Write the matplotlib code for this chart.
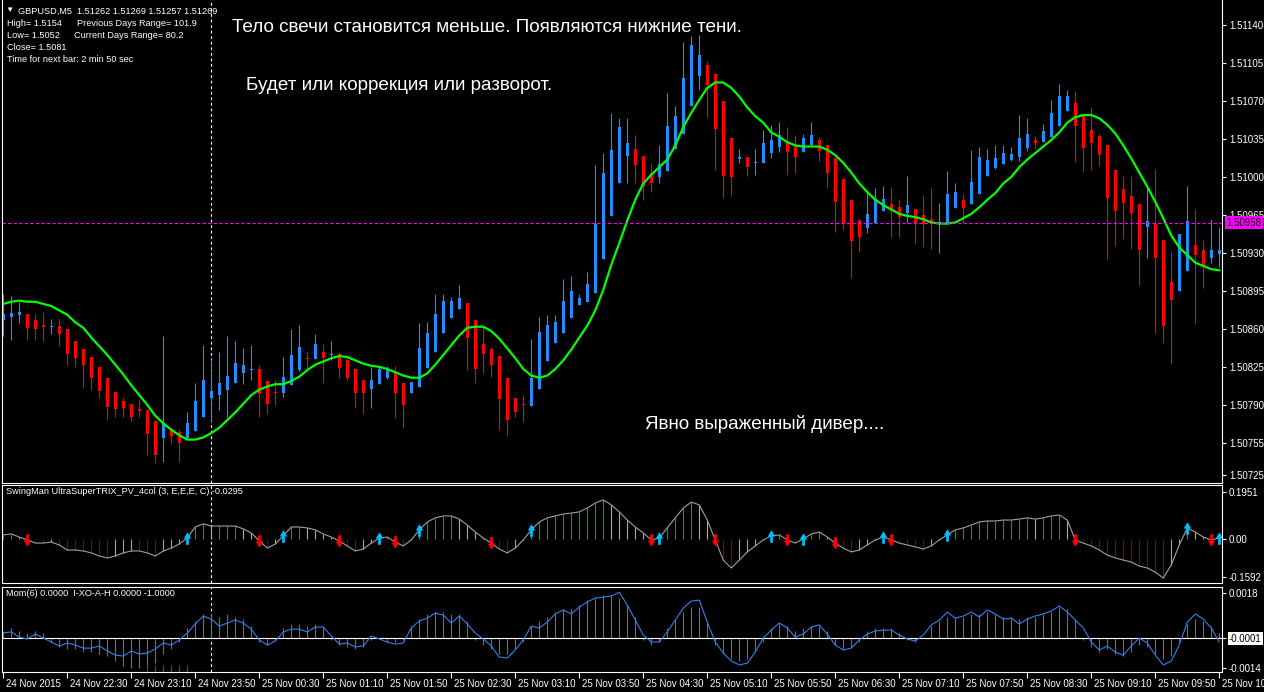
import numpy as np
import matplotlib
matplotlib.use('Agg')
import matplotlib.pyplot as plt
import matplotlib.transforms as mtransforms
from matplotlib.path import Path

plt.rcParams['font.family'] = ['Liberation Sans', 'DejaVu Sans']

# GBPUSD M5, bars from 24 Nov 21:50 to 25 Nov 10:30
opens = [
    1.50868, 1.50871, 1.50873, 1.50874, 1.50868, 1.50864, 1.50862, 1.50863, 1.50860, 1.50849,
    1.50841, 1.50834, 1.50825, 1.50815, 1.50802, 1.50794, 1.50791, 1.50786, 1.50785, 1.50775,
    1.50759, 1.50768, 1.50765, 1.50759, 1.50766, 1.50779, 1.50796, 1.50799, 1.50804, 1.50810,
    1.50819, 1.50822, 1.50823, 1.50812, 1.50802, 1.50801, 1.50808, 1.50822, 1.50833, 1.50832,
    1.50839, 1.50836, 1.50837, 1.50831, 1.50823, 1.50813, 1.50805, 1.50809, 1.50815, 1.50819,
    1.50810, 1.50801, 1.50806, 1.50824, 1.50839, 1.50856, 1.50870, 1.50878, 1.50884, 1.50868,
    1.50846, 1.50841, 1.50835, 1.50815, 1.50796, 1.50791, 1.50789, 1.50805, 1.50830, 1.50847,
    1.50856, 1.50870, 1.50882, 1.50885, 1.50893, 1.50924, 1.50964, 1.50994, 1.51019, 1.51026,
    1.51019, 1.51004, 1.51000, 1.51005, 1.51026, 1.51040, 1.51065, 1.51093, 1.51103, 1.51095,
    1.51070, 1.51036, 1.51017, 1.51018, 1.51013, 1.51013, 1.51022, 1.51028, 1.51031, 1.51028,
    1.51023, 1.51029, 1.51034, 1.51029, 1.51017, 1.50998, 1.50979, 1.50960, 1.50953, 1.50958,
    1.50969, 1.50975, 1.50972, 1.50967, 1.50970, 1.50965, 1.50961, 1.50957, 1.50957, 1.50971,
    1.50979, 1.50975, 1.50984, 1.51001, 1.51008, 1.51012, 1.51016, 1.51018, 1.51027, 1.51034,
    1.51032, 1.51037, 1.51047, 1.51061, 1.51068, 1.51057, 1.51043, 1.51038, 1.51029, 1.51006,
    1.50989, 1.50982, 1.50975, 1.50954, 1.50957, 1.50942, 1.50903, 1.50895, 1.50913, 1.50937,
    1.50933, 1.50925, 1.50929]
highs = [
    1.50892, 1.50890, 1.50885, 1.50874, 1.50874, 1.50876, 1.50869, 1.50869, 1.50860, 1.50849,
    1.50841, 1.50834, 1.50825, 1.50815, 1.50802, 1.50797, 1.50791, 1.50795, 1.50785, 1.50775,
    1.50853, 1.50769, 1.50768, 1.50783, 1.50810, 1.50845, 1.50832, 1.50839, 1.50853, 1.50849,
    1.50842, 1.50845, 1.50827, 1.50812, 1.50813, 1.50834, 1.50860, 1.50864, 1.50840, 1.50855,
    1.50846, 1.50849, 1.50839, 1.50833, 1.50824, 1.50813, 1.50825, 1.50826, 1.50826, 1.50826,
    1.50810, 1.50811, 1.50865, 1.50866, 1.50892, 1.50892, 1.50889, 1.50900, 1.50884, 1.50868,
    1.50862, 1.50843, 1.50835, 1.50815, 1.50796, 1.50799, 1.50851, 1.50871, 1.50873, 1.50873,
    1.50906, 1.50909, 1.50892, 1.50912, 1.51011, 1.51022, 1.51059, 1.51054, 1.51054, 1.51039,
    1.51019, 1.51012, 1.51029, 1.51077, 1.51065, 1.51124, 1.51130, 1.51131, 1.51107, 1.51095,
    1.51070, 1.51036, 1.51026, 1.51018, 1.51026, 1.51043, 1.51048, 1.51051, 1.51046, 1.51039,
    1.51040, 1.51051, 1.51037, 1.51029, 1.51017, 1.50998, 1.50979, 1.50960, 1.50988, 1.50990,
    1.50992, 1.50991, 1.50980, 1.51001, 1.50970, 1.50982, 1.50990, 1.50976, 1.51005, 1.50994,
    1.50984, 1.51025, 1.51028, 1.51026, 1.51029, 1.51029, 1.51028, 1.51057, 1.51054, 1.51038,
    1.51049, 1.51071, 1.51086, 1.51080, 1.51079, 1.51057, 1.51064, 1.51040, 1.51029, 1.51006,
    1.51001, 1.51001, 1.50975, 1.50992, 1.51007, 1.50942, 1.50932, 1.50947, 1.50992, 1.50970,
    1.50942, 1.50961, 1.50954]
lows = [
    1.50853, 1.50850, 1.50865, 1.50850, 1.50850, 1.50849, 1.50855, 1.50844, 1.50827, 1.50825,
    1.50806, 1.50804, 1.50796, 1.50777, 1.50779, 1.50779, 1.50775, 1.50779, 1.50744, 1.50736,
    1.50737, 1.50754, 1.50737, 1.50759, 1.50766, 1.50779, 1.50774, 1.50785, 1.50779, 1.50810,
    1.50809, 1.50813, 1.50779, 1.50782, 1.50790, 1.50797, 1.50808, 1.50821, 1.50822, 1.50832,
    1.50810, 1.50831, 1.50815, 1.50813, 1.50787, 1.50782, 1.50787, 1.50809, 1.50814, 1.50778,
    1.50769, 1.50801, 1.50806, 1.50824, 1.50839, 1.50856, 1.50870, 1.50878, 1.50822, 1.50810,
    1.50819, 1.50816, 1.50767, 1.50762, 1.50779, 1.50774, 1.50789, 1.50805, 1.50830, 1.50847,
    1.50856, 1.50870, 1.50882, 1.50885, 1.50893, 1.50924, 1.50964, 1.50994, 1.50994, 1.50994,
    1.50979, 1.50986, 1.50994, 1.51005, 1.51026, 1.51040, 1.51065, 1.51080, 1.51055, 1.51006,
    1.50981, 1.50983, 1.51013, 1.51001, 1.51002, 1.51013, 1.51017, 1.51023, 1.51002, 1.51004,
    1.51023, 1.51029, 1.51015, 1.50991, 1.50949, 1.50951, 1.50907, 1.50931, 1.50948, 1.50958,
    1.50969, 1.50945, 1.50945, 1.50958, 1.50939, 1.50935, 1.50934, 1.50930, 1.50957, 1.50971,
    1.50958, 1.50975, 1.50984, 1.51001, 1.51007, 1.51012, 1.51015, 1.51015, 1.51024, 1.51026,
    1.51032, 1.51037, 1.51047, 1.51061, 1.51014, 1.51005, 1.51006, 1.51010, 1.50924, 1.50936,
    1.50943, 1.50934, 1.50900, 1.50925, 1.50856, 1.50847, 1.50828, 1.50895, 1.50913, 1.50865,
    1.50898, 1.50921, 1.50917]
closes = [
    1.50874, 1.50875, 1.50876, 1.50861, 1.50860, 1.50862, 1.50863, 1.50855, 1.50837, 1.50833,
    1.50827, 1.50815, 1.50803, 1.50788, 1.50786, 1.50787, 1.50779, 1.50784, 1.50763, 1.50744,
    1.50773, 1.50761, 1.50755, 1.50773, 1.50794, 1.50813, 1.50803, 1.50810, 1.50817, 1.50829,
    1.50827, 1.50823, 1.50800, 1.50791, 1.50801, 1.50816, 1.50836, 1.50843, 1.50832, 1.50846,
    1.50833, 1.50837, 1.50824, 1.50815, 1.50801, 1.50801, 1.50813, 1.50823, 1.50822, 1.50801,
    1.50790, 1.50811, 1.50842, 1.50856, 1.50874, 1.50886, 1.50886, 1.50888, 1.50852, 1.50823,
    1.50837, 1.50827, 1.50795, 1.50776, 1.50783, 1.50790, 1.50815, 1.50857, 1.50864, 1.50866,
    1.50886, 1.50895, 1.50888, 1.50901, 1.50957, 1.51004, 1.51025, 1.51046, 1.51031, 1.51011,
    1.50992, 1.50994, 1.51012, 1.51047, 1.51056, 1.51091, 1.51122, 1.51112, 1.51085, 1.51044,
    1.51001, 1.51000, 1.51018, 1.51009, 1.51014, 1.51031, 1.51034, 1.51039, 1.51023, 1.51018,
    1.51036, 1.51039, 1.51024, 1.51004, 1.50977, 1.50958, 1.50941, 1.50945, 1.50966, 1.50980,
    1.50980, 1.50969, 1.50963, 1.50974, 1.50958, 1.50957, 1.50957, 1.50958, 1.50984, 1.50986,
    1.50971, 1.50995, 1.51018, 1.51016, 1.51017, 1.51022, 1.51021, 1.51036, 1.51040, 1.51031,
    1.51042, 1.51059, 1.51075, 1.51075, 1.51047, 1.51027, 1.51031, 1.51020, 1.50981, 1.50969,
    1.50976, 1.50967, 1.50933, 1.50959, 1.50925, 1.50863, 1.50887, 1.50947, 1.50959, 1.50928,
    1.50919, 1.50933, 1.50933]
# smoothed average (green line)
ma_line = [
    1.50883, 1.50885, 1.50886, 1.50885, 1.50885, 1.50883, 1.50881, 1.50877, 1.50873, 1.50866,
    1.50861, 1.50852, 1.50844, 1.50836, 1.50827, 1.50818, 1.50808, 1.50799, 1.50790, 1.50780,
    1.50773, 1.50767, 1.50762, 1.50758, 1.50758, 1.50760, 1.50764, 1.50769, 1.50776, 1.50783,
    1.50791, 1.50799, 1.50804, 1.50807, 1.50809, 1.50809, 1.50812, 1.50816, 1.50822, 1.50827,
    1.50830, 1.50833, 1.50835, 1.50834, 1.50831, 1.50828, 1.50826, 1.50825, 1.50823, 1.50820,
    1.50817, 1.50815, 1.50815, 1.50819, 1.50827, 1.50836, 1.50845, 1.50854, 1.50861, 1.50862,
    1.50862, 1.50858, 1.50851, 1.50842, 1.50833, 1.50823, 1.50817, 1.50815, 1.50817, 1.50823,
    1.50831, 1.50841, 1.50852, 1.50863, 1.50877, 1.50896, 1.50919, 1.50939, 1.50960, 1.50979,
    1.50994, 1.51002, 1.51009, 1.51016, 1.51029, 1.51046, 1.51059, 1.51071, 1.51082, 1.51087,
    1.51087, 1.51082, 1.51074, 1.51064, 1.51056, 1.51050, 1.51041, 1.51037, 1.51032, 1.51029,
    1.51028, 1.51028, 1.51028, 1.51025, 1.51020, 1.51013, 1.51004, 1.50994, 1.50986, 1.50979,
    1.50974, 1.50970, 1.50966, 1.50964, 1.50963, 1.50961, 1.50958, 1.50957, 1.50957, 1.50958,
    1.50962, 1.50966, 1.50972, 1.50979, 1.50985, 1.50994, 1.51000, 1.51009, 1.51016, 1.51022,
    1.51028, 1.51034, 1.51041, 1.51050, 1.51055, 1.51057, 1.51057, 1.51054, 1.51048, 1.51040,
    1.51029, 1.51017, 1.51004, 1.50991, 1.50977, 1.50962, 1.50946, 1.50935, 1.50928, 1.50921,
    1.50918, 1.50915, 1.50914]
# SwingMan UltraSuperTRIX
trix = [
    0.017, 0.021, 0.008, -0.004, -0.017, -0.017, -0.013, -0.025, -0.046, -0.046,
    -0.050, -0.058, -0.071, -0.079, -0.071, -0.058, -0.050, -0.050, -0.058, -0.071,
    -0.050, -0.038, -0.021, 0.004, 0.050, 0.063, 0.054, 0.054, 0.054, 0.054,
    0.042, 0.025, -0.008, -0.038, -0.021, 0.013, 0.050, 0.050, 0.046, 0.038,
    0.021, 0.008, -0.008, -0.029, -0.050, -0.042, -0.017, 0.004, 0.008, -0.013,
    -0.029, -0.004, 0.038, 0.071, 0.088, 0.096, 0.096, 0.083, 0.058, 0.029,
    0.004, -0.017, -0.042, -0.058, -0.038, -0.004, 0.038, 0.071, 0.088, 0.096,
    0.104, 0.108, 0.113, 0.129, 0.150, 0.163, 0.142, 0.113, 0.079, 0.050,
    0.025, -0.004, 0.004, 0.046, 0.088, 0.129, 0.154, 0.142, 0.079, -0.004,
    -0.088, -0.121, -0.088, -0.054, -0.029, -0.004, 0.013, 0.017, -0.004, -0.017,
    0.000, 0.021, 0.029, 0.008, -0.017, -0.038, -0.054, -0.046, -0.025, -0.004,
    0.008, -0.004, -0.017, -0.025, -0.033, -0.042, -0.029, -0.004, 0.017, 0.038,
    0.046, 0.058, 0.071, 0.075, 0.075, 0.079, 0.079, 0.083, 0.088, 0.083,
    0.088, 0.096, 0.100, 0.079, -0.004, -0.017, -0.029, -0.046, -0.067, -0.079,
    -0.088, -0.096, -0.113, -0.121, -0.138, -0.163, -0.108, -0.025, 0.046, 0.029,
    0.008, -0.004, 0.004]
# Mom(6)
mom = [
    0.00010, 0.00014, -0.00008, -0.00016, 0.00005, -0.00012, -0.00029, -0.00046, -0.00033, -0.00042,
    -0.00055, -0.00055, -0.00046, -0.00067, -0.00085, -0.00089, -0.00067, -0.00080, -0.00076, -0.00059,
    -0.00033, -0.00042, -0.00020, 0.00009, 0.00048, 0.00082, 0.00069, 0.00039, 0.00052, 0.00065,
    0.00052, 0.00026, -0.00020, -0.00042, -0.00025, 0.00014, 0.00026, 0.00026, 0.00014, 0.00035,
    0.00035, -0.00003, -0.00038, -0.00033, -0.00050, -0.00046, -0.00003, -0.00016, -0.00029, -0.00038,
    -0.00033, 0.00031, 0.00061, 0.00073, 0.00095, 0.00086, 0.00052, 0.00082, 0.00048, 0.00009,
    -0.00016, -0.00046, -0.00093, -0.00097, -0.00063, -0.00020, 0.00039, 0.00031, 0.00056, 0.00091,
    0.00108, 0.00091, 0.00120, 0.00142, 0.00159, 0.00163, 0.00167, 0.00184, 0.00129, 0.00065,
    0.00001, -0.00029, -0.00029, 0.00014, 0.00065, 0.00116, 0.00146, 0.00150, 0.00056, -0.00029,
    -0.00076, -0.00110, -0.00127, -0.00119, -0.00072, -0.00012, 0.00022, 0.00052, 0.00031, -0.00008,
    0.00005, 0.00035, 0.00044, 0.00005, -0.00042, -0.00063, -0.00055, -0.00020, 0.00005, 0.00018,
    0.00022, 0.00022, 0.00001, -0.00016, -0.00025, 0.00001, 0.00044, 0.00065, 0.00099, 0.00073,
    0.00082, 0.00099, 0.00078, 0.00108, 0.00091, 0.00069, 0.00073, 0.00048, 0.00069, 0.00082,
    0.00091, 0.00103, 0.00125, 0.00099, 0.00065, 0.00031, -0.00029, -0.00063, -0.00046, -0.00072,
    -0.00085, -0.00046, -0.00012, -0.00033, -0.00085, -0.00127, -0.00110, -0.00042, 0.00056, 0.00091,
    0.00069, 0.00031, -0.00029]
# I-XO-A-H histogram
xo_hist = [
    0.0002, 0.0003, 0.0002, 0.0001, 0.0002, 0.0001, -0.0003, -0.0005, -0.0006, -0.0006,
    -0.0007, -0.0007, -0.0008, -0.0009, -0.0011, -0.0013, -0.0014, -0.0014, -0.0013, -0.0012,
    -0.0008, -0.0006, -0.0003, 0.0003, 0.0006, 0.0009, 0.0009, 0.0008, 0.0009, 0.0008,
    0.0007, 0.0004, -0.0003, -0.0004, -0.0002, 0.0003, 0.0005, 0.0005, 0.0004, 0.0005,
    0.0004, -0.0002, -0.0004, -0.0005, -0.0006, -0.0005, -0.0002, -0.0001, -0.0003, -0.0003,
    -0.0002, 0.0004, 0.0007, 0.0009, 0.0010, 0.0010, 0.0009, 0.0009, 0.0006, -0.0002,
    -0.0004, -0.0006, -0.0008, -0.0008, -0.0006, -0.0003, 0.0004, 0.0006, 0.0008, 0.0010,
    0.0011, 0.0011, 0.0013, 0.0015, 0.0016, 0.0017, 0.0017, 0.0016, 0.0013, 0.0008,
    -0.0002, -0.0004, -0.0003, 0.0003, 0.0007, 0.0010, 0.0012, 0.0012, 0.0006, -0.0004,
    -0.0008, -0.0010, -0.0011, -0.0010, -0.0007, -0.0003, 0.0003, 0.0005, 0.0004, 0.0002,
    0.0003, 0.0004, 0.0004, 0.0002, -0.0004, -0.0006, -0.0005, -0.0003, 0.0002, 0.0003,
    0.0003, 0.0003, 0.0001, -0.0002, -0.0003, -0.0001, 0.0004, 0.0006, 0.0008, 0.0008,
    0.0008, 0.0009, 0.0009, 0.0010, 0.0009, 0.0008, 0.0008, 0.0007, 0.0008, 0.0008,
    0.0009, 0.0010, 0.0012, 0.0011, 0.0007, -0.0002, -0.0005, -0.0007, -0.0006, -0.0008,
    -0.0009, -0.0007, -0.0004, -0.0005, -0.0008, -0.0010, -0.0009, -0.0003, 0.0005, 0.0007,
    0.0006, 0.0004, 0.0001]
xo_red_idx = [18, 19, 20, 21, 22, 23]

bid_price = 1.50958
separator_bar = 26
price_ticks = [1.51140, 1.51105, 1.51070, 1.51035, 1.51000, 1.50965, 1.50930,
               1.50895, 1.50860, 1.50825, 1.50790, 1.50755, 1.50725]
trix_ticks = [0.1951, 0.0, -0.1592]
trix_tick_labels = ['0.1951', '0.00', '-0.1592']
mom_ticks = [0.0018, -0.0001, -0.0014]
mom_tick_labels = ['0.0018', '-0.0001', '-0.0014']
time_ticks = list(range(0, 153, 8))
time_labels = ['24 Nov 2015', '24 Nov 22:30', '24 Nov 23:10', '24 Nov 23:50', '25 Nov 00:30',
               '25 Nov 01:10', '25 Nov 01:50', '25 Nov 02:30', '25 Nov 03:10', '25 Nov 03:50',
               '25 Nov 04:30', '25 Nov 05:10', '25 Nov 05:50', '25 Nov 06:30', '25 Nov 07:10',
               '25 Nov 07:50', '25 Nov 08:30', '25 Nov 09:10', '25 Nov 09:50', '25 Nov 10:30']

o = np.array(opens)
h = np.array(highs)
l = np.array(lows)
c = np.array(closes)
tr = np.array(trix)
n = len(c)
x = np.arange(n)

W, H = 1264, 692
fig = plt.figure(figsize=(W / 100, H / 100), dpi=100, facecolor='black')


def px_axes(left, top, right, bottom):
    return fig.add_axes([left / W, 1 - bottom / H, (right - left) / W, (bottom - top) / H])


ax = px_axes(2, 0, 1222, 483)
ax2 = px_axes(2, 485, 1222, 583)
ax3 = px_axes(2, 587, 1222, 672)

for a in (ax, ax2, ax3):
    a.set_facecolor('black')
    for s in a.spines.values():
        s.set_color('white')
        s.set_linewidth(0.8)
    a.yaxis.tick_right()
    a.tick_params(axis='y', colors='white', labelsize=7, length=3, width=0.8, pad=2)
    a.set_xlim(-0.16, 152.34)
    a.axvline(separator_bar, color='white', lw=0.8, ls=(0, (2.5, 2.5)))
for a in (ax, ax2):
    a.set_xticks([])
ax.spines['top'].set_visible(False)

# candles
up = c >= o
col = np.where(up, '#1E90FF', '#FF0000')
ax.vlines(x, l, h, colors=col, lw=0.8)
body = np.abs(c - o)
body_h = np.maximum(body, 0.000012)
ax.bar(x, body_h, bottom=np.minimum(o, c) - (body_h - body) / 2, width=0.4, color=col, lw=0)
ax.plot(x, ma_line, color='#00FF00', lw=1.6)
ax.axhline(bid_price, color='#FF00FF', lw=0.8, ls=(0, (3, 2)))
ax.set_ylim(1.50718, 1.51163)
ax.set_yticks(price_ticks)
ax.set_yticklabels([f'{p:.5f}' for p in price_ticks])
ax.annotate(f'{bid_price:.5f}', xy=(1.0, bid_price), xycoords=('axes fraction', 'data'),
            xytext=(3, 0), textcoords='offset points', va='center', ha='left', fontsize=7,
            color='black', bbox=dict(boxstyle='square,pad=0.15', fc='#FF00FF', ec='none'))

# TRIX panel
d = np.diff(tr, prepend=tr[0])
hcol = np.where(tr >= 0, np.where(d >= 0, '#1E9B1E', '#9ACD32'),
                np.where(d <= 0, '#8B0000', '#FA8072'))
ax2.vlines(x, 0, tr, colors=hcol, lw=0.8)
ax2.plot(x, tr, color='#A0A0A0', lw=0.8)

up_arrow = Path([(-0.22, -1), (0.22, -1), (0.22, 0), (0.6, 0), (0, 1), (-0.6, 0), (-0.22, 0), (-0.22, -1)],
                [Path.MOVETO] + [Path.LINETO] * 6 + [Path.CLOSEPOLY])
down_arrow = Path([(vx, -vy) for vx, vy in up_arrow.vertices], up_arrow.codes)
dn_idx = [i for i in range(1, n) if tr[i - 1] >= 0 > tr[i]]
up_idx = [i for i in range(1, n) if tr[i - 1] < 0 <= tr[i]]
ax2.plot(dn_idx, tr[dn_idx], ls='none', marker=down_arrow, ms=9, color='#FF0000', mew=0)
ax2.plot(up_idx, tr[up_idx], ls='none', marker=up_arrow, ms=9, color='#00BFFF', mew=0)
ax2.set_ylim(-0.1835, 0.225)
ax2.set_yticks(trix_ticks)
ax2.set_yticklabels(trix_tick_labels)

# Momentum panel
ax3.vlines(x, -0.0001, xo_hist, colors='#6E6E6E', lw=0.8)
ax3.vlines(xo_red_idx, -0.00157, -0.00128, colors='#FF0000', lw=0.8)
ax3.axhline(-0.0001, color='white', lw=0.8)
ax3.plot(x, mom, color='#2F80F0', lw=0.8)
ax3.set_ylim(-0.00157, 0.00206)
ax3.set_yticks(mom_ticks)
ax3.set_yticklabels(mom_tick_labels)
lab = ax3.get_yticklabels()[1]
lab.set_color('black')
lab.set_bbox(dict(facecolor='white', edgecolor='none', pad=1))

ax3.set_xticks(time_ticks)
ax3.set_xticklabels(time_labels)
ax3.tick_params(axis='x', colors='white', labelsize=7, length=4, width=0.8, pad=1)
shift = mtransforms.ScaledTranslation(3 / 100, 0, fig.dpi_scale_trans)
for t in ax3.get_xticklabels():
    t.set_horizontalalignment('left')
    t.set_transform(t.get_transform() + shift)


# texts
def ftext(px, py, s, **kw):
    fig.text(px / W, 1 - py / H, s, color='white', va='center', **kw)


ftext(5, 10, '▼', fontsize=6)
ftext(18, 11, 'GBPUSD,M5  1.51262 1.51269 1.51257 1.51269', fontsize=6.6)
ftext(7, 24, 'High= 1.5154', fontsize=6.6)
ftext(77, 24, 'Previous Days Range= 101.9', fontsize=6.6)
ftext(7, 36, 'Low= 1.5052', fontsize=6.6)
ftext(74, 36, 'Current Days Range= 80.2', fontsize=6.6)
ftext(7, 48, 'Close= 1.5081', fontsize=6.6)
ftext(7, 60, 'Time for next bar: 2 min 50 sec', fontsize=6.6)
ftext(6, 492, 'SwingMan UltraSuperTRIX_PV_4col (3, E,E,E, C) -0.0295', fontsize=6.6)
ftext(6, 594, 'Mom(6) 0.0000  I-XO-A-H 0.0000 -1.0000', fontsize=6.6)

ftext(232, 28, 'Тело свечи становится меньше. Появляются нижние тени.', fontsize=13.6)
ftext(246, 85, 'Будет или коррекция или разворот.', fontsize=13.6)
ftext(645, 424, 'Явно выраженный дивер....', fontsize=13.6)

fig.savefig('out.png', dpi=100, facecolor='black')
